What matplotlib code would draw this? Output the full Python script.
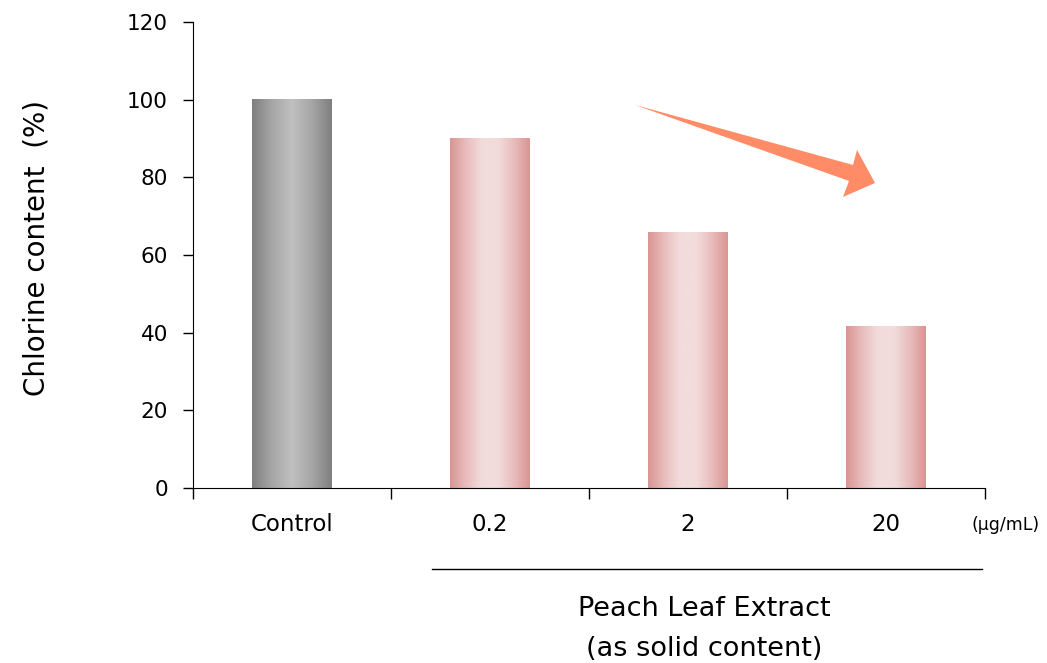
import numpy as np
from matplotlib import pyplot as plt
from matplotlib.patches import Polygon
from matplotlib.colors import LinearSegmentedColormap

categories = ['Control', '0.2', '2', '20']
values = [100, 90.1, 65.9, 41.5]
y_ticks = [0, 20, 40, 60, 80, 100, 120]

plt.rcParams['font.family'] = ['DejaVu Sans']

fig = plt.figure(figsize=(10.47, 6.63), dpi=100)
ax = fig.add_axes([0.1843, 0.2640, 0.7565, 0.7029])

gray_cmap = LinearSegmentedColormap.from_list('g', ['#7f7f7f', '#a6a6a6', '#c0c0c0', '#a6a6a6', '#7f7f7f'])
pink_cmap = LinearSegmentedColormap.from_list('p', ['#d99594', '#e8bdbc', '#f2dcdb', '#f2dcdb', '#e8bdbc', '#d99594'])

grad = np.linspace(0, 1, 256).reshape(1, -1)
bar_w = 0.40
for i, v in enumerate(values):
    cmap = gray_cmap if i == 0 else pink_cmap
    ax.imshow(grad, cmap=cmap, aspect='auto', interpolation='bicubic',
              extent=(i - bar_w / 2, i + bar_w / 2, 0, v), zorder=2)

ax.set_xlim(-0.5, len(categories) - 0.5)
ax.set_ylim(0, 120)
ax.set_aspect('auto')

for s in ['top', 'right']:
    ax.spines[s].set_visible(False)

ax.set_yticks(y_ticks)
ax.tick_params(axis='y', length=7, width=1, labelsize=15.5, pad=11)
ax.set_xticks(range(len(categories)))
ax.set_xticklabels(categories, fontsize=16.5)
ax.set_xticks(np.arange(-0.5, len(categories)), minor=True)
ax.tick_params(axis='x', which='major', length=0, pad=18)
ax.tick_params(axis='x', which='minor', length=8, width=1)

ax.set_ylabel('Chlorine content  (%)', fontsize=20)
ax.yaxis.set_label_coords(-0.18, 0.515)

ax.text(0.983, -0.08, '(µg/mL)', transform=ax.transAxes, fontsize=12.5,
        ha='left', va='center')

# bracket line under the extract groups
ax.plot([0.302, 0.996], [-0.174, -0.174], transform=ax.transAxes,
        color='black', lw=1, clip_on=False)
ax.text(0.645, -0.26, 'Peach Leaf Extract', transform=ax.transAxes,
        fontsize=19.5, ha='center', va='center')
ax.text(0.645, -0.345, '(as solid content)', transform=ax.transAxes,
        fontsize=19.5, ha='center', va='center')

# tapered trend arrow
px = np.array([635, 853, 857, 875, 843, 849])
py = np.array([105, 165, 150, 183, 197, 181])
pts = np.column_stack([(px - 193) / 792, (488 - py) / 466])
ax.add_patch(Polygon(pts, closed=True, transform=ax.transAxes,
                     facecolor='#ff8c66', edgecolor='none', zorder=3))

fig.savefig('out.png', dpi=100)
